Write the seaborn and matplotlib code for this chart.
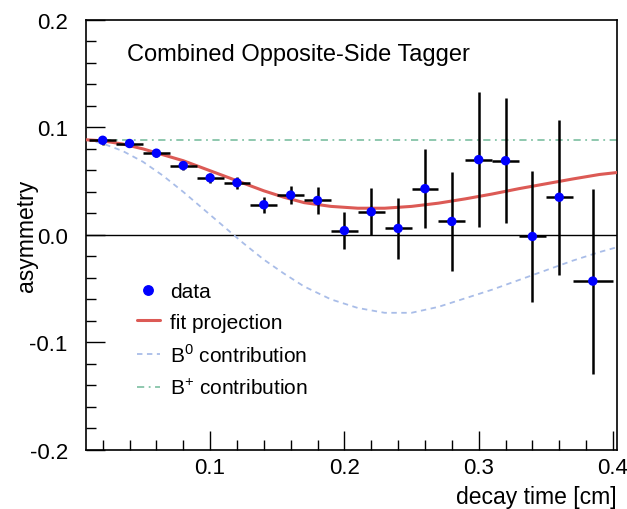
import numpy as np
import pandas as pd
import matplotlib
matplotlib.use("Agg")
import matplotlib.pyplot as plt
import seaborn as sns
from matplotlib.ticker import MultipleLocator
from matplotlib.lines import Line2D

# Binned asymmetry measurements
t_bins = [0.02, 0.04, 0.06, 0.08, 0.10, 0.12, 0.14, 0.16, 0.18, 0.20,
          0.22, 0.24, 0.26, 0.28, 0.30, 0.32, 0.34, 0.36, 0.385]
t_halfwidth = [0.01] * 18 + [0.015]
asym = [0.088, 0.085, 0.076, 0.0645, 0.053, 0.0485, 0.028, 0.037, 0.032, 0.004,
        0.0215, 0.006, 0.043, 0.0125, 0.070, 0.069, -0.0015, 0.035, -0.043]
asym_err = [0.004, 0.003, 0.004, 0.0045, 0.005, 0.0056, 0.0073, 0.0087, 0.013, 0.017,
            0.022, 0.028, 0.037, 0.046, 0.063, 0.058, 0.061, 0.072, 0.086]

# Fit projection
fit_t = [0.0075, 0.02, 0.035, 0.05, 0.065, 0.08, 0.095, 0.11, 0.125, 0.14,
         0.155, 0.17, 0.19, 0.21, 0.23, 0.25, 0.27, 0.29, 0.31, 0.33,
         0.35, 0.37, 0.39, 0.403]
fit_a = [0.0885, 0.0875, 0.0845, 0.080, 0.0745, 0.069, 0.062, 0.055, 0.048, 0.041,
         0.035, 0.030, 0.0265, 0.0248, 0.0248, 0.0265, 0.0295, 0.0335, 0.038, 0.043,
         0.0475, 0.052, 0.0562, 0.058]

# B0 component
b0_t = [0.0075, 0.02, 0.035, 0.05, 0.065, 0.08, 0.095, 0.11, 0.125, 0.14,
        0.155, 0.17, 0.19, 0.21, 0.23, 0.25, 0.27, 0.29, 0.31, 0.33,
        0.35, 0.37, 0.39, 0.403]
b0_a = [0.0885, 0.085, 0.078, 0.068, 0.055, 0.040, 0.024, 0.008, -0.008, -0.023,
        -0.036, -0.048, -0.060, -0.068, -0.0725, -0.0725, -0.067, -0.059, -0.051, -0.042,
        -0.033, -0.024, -0.016, -0.0115]

# B+ component
bp_t = [0.0075, 0.403]
bp_a = [0.0885, 0.0885]

fit_df = pd.DataFrame({"t": fit_t, "a": fit_a})
b0_df = pd.DataFrame({"t": b0_t, "a": b0_a})
bp_df = pd.DataFrame({"t": bp_t, "a": bp_a})
data_df = pd.DataFrame({"t": t_bins, "a": asym, "xerr": t_halfwidth, "yerr": asym_err})

sns.set_theme(style="white")
plt.rcParams["font.family"] = ["Liberation Sans", "DejaVu Sans"]
plt.rcParams["mathtext.fontset"] = "custom"
plt.rcParams["mathtext.rm"] = "Liberation Sans"
plt.rcParams["text.color"] = "black"
plt.rcParams["axes.labelcolor"] = "black"
plt.rcParams["xtick.color"] = "black"
plt.rcParams["ytick.color"] = "black"

fig = plt.figure(figsize=(6.27, 5.10), dpi=100)
ax = fig.add_axes([0.137, 0.116, 0.847, 0.843])

RED = "#dc5a55"
BLUE = "#a9bde8"
GREEN = "#86c4a8"
DASH = (0, (3, 2.5))
DASHDOT = (0, (4, 2.5, 1, 2.5))

ax.axhline(0.0, color="black", lw=1.0, zorder=1)
sns.lineplot(data=bp_df, x="t", y="a", ax=ax, color=GREEN, lw=1.3,
             linestyle=DASHDOT, zorder=2)
sns.lineplot(data=b0_df, x="t", y="a", ax=ax, color=BLUE, lw=1.3,
             linestyle=DASH, zorder=2)
sns.lineplot(data=fit_df, x="t", y="a", ax=ax, color=RED, lw=2.2, zorder=3)

ax.errorbar(data_df["t"], data_df["a"], xerr=data_df["xerr"], yerr=data_df["yerr"],
            fmt="none", ecolor="black", elinewidth=1.8, capsize=0, zorder=4)
sns.scatterplot(data=data_df, x="t", y="a", ax=ax, color="#0000ff", s=46,
                edgecolor="none", zorder=5)

ax.set_xlim(0.0075, 0.403)
ax.set_ylim(-0.2, 0.2)
ax.xaxis.set_major_locator(MultipleLocator(0.1))
ax.xaxis.set_minor_locator(MultipleLocator(0.02))
ax.yaxis.set_major_locator(MultipleLocator(0.1))
ax.yaxis.set_minor_locator(MultipleLocator(0.02))
ax.set_xticks([0.1, 0.2, 0.3, 0.4])
ax.set_xticklabels(["0.1", "0.2", "0.3", "0.4"])
ax.set_yticks([-0.2, -0.1, 0.0, 0.1, 0.2])
ax.set_yticklabels(["-0.2", "-0.1", "0.0", "0.1", "0.2"])
ax.tick_params(axis="both", which="major", direction="in", length=14, width=1.0,
               labelsize=16, color="black", labelcolor="black", top=False,
               right=False, bottom=True, left=True)
ax.tick_params(axis="both", which="minor", direction="in", length=7, width=1.0,
               color="black", top=False, right=False, bottom=True, left=True)
ax.tick_params(axis="y", which="major", pad=13)
ax.tick_params(axis="x", which="major", pad=5)

for sp in ax.spines.values():
    sp.set_color("black")
    sp.set_linewidth(1.2)

ax.set_xlabel("decay time [cm]", fontsize=16.5, loc="right", color="black")
ax.xaxis.set_label_coords(1.0, -0.082)
ax.set_ylabel("asymmetry", fontsize=16.5, color="black")
ax.yaxis.set_label_coords(-0.09, 0.5)

ax.text(0.078, 0.92, "Combined Opposite-Side Tagger", transform=ax.transAxes,
        fontsize=17, ha="left", va="center", color="black")

handles = [
    Line2D([], [], marker="o", color="#0000ff", linestyle="none", markersize=6.8),
    Line2D([], [], color=RED, lw=2.2),
    Line2D([], [], color=BLUE, lw=1.3, linestyle=DASH),
    Line2D([], [], color=GREEN, lw=1.3, linestyle=DASHDOT),
]
labels = ["data", "fit projection", r"B$^{0}$ contribution", r"B$^{+}$ contribution"]
leg = ax.legend(handles, labels, loc="upper left", bbox_to_anchor=(0.096, 0.39),
                frameon=False, fontsize=15, handlelength=1.1, handletextpad=0.5,
                labelspacing=0.55, borderaxespad=0, borderpad=0)
for txt in leg.get_texts():
    txt.set_color("black")

fig.savefig("out.png", dpi=100)
